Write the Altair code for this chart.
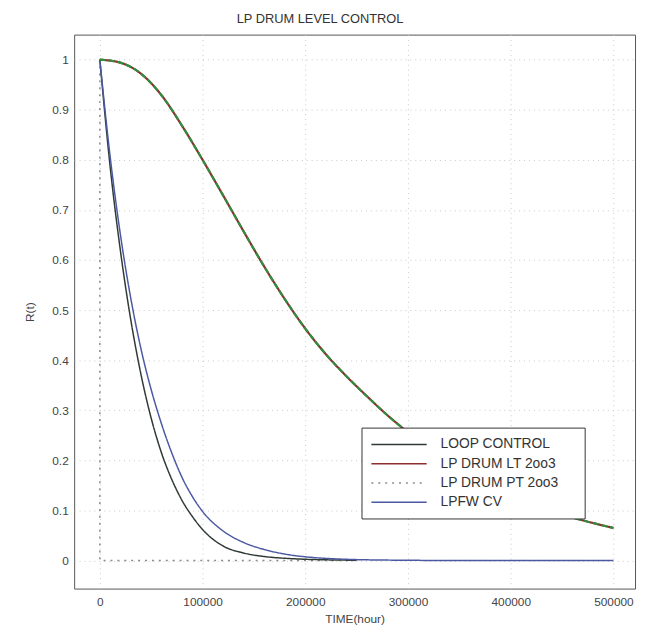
import altair as alt
import pandas as pd

series_names = ["LOOP CONTROL", "LP DRUM LT 2oo3", "LP DRUM PT 2oo3", "LPFW CV"]
series_colors = ["#2f3a33", "#8e2f2f", "#8a8a8a", "#4b59a3"]
series_dashes = [[1, 0], [1, 0], [2, 5], [1, 0]]

x_ticks = [0, 100000, 200000, 300000, 400000, 500000]
y_ticks = [0, 0.1, 0.2, 0.3, 0.4, 0.5, 0.6, 0.7, 0.8, 0.9, 1.0]

loop_t = [0, 10000, 20000, 30000, 40000, 50000, 60000, 70000, 80000, 90000, 100000,
          120000, 140000, 160000, 180000, 200000, 225000, 250000]
loop_r = [1.0, 0.787, 0.619, 0.482, 0.372, 0.284, 0.215, 0.162, 0.120, 0.088, 0.062,
          0.029, 0.015, 0.008, 0.0045, 0.0025, 0.0012, 0.0006]

lt_t = [0, 20000, 40000, 60000, 80000, 100000, 120000, 140000, 160000, 180000,
        200000, 220000, 240000, 260000, 280000, 300000, 320000, 340000, 360000,
        380000, 400000, 420000, 440000, 460000, 480000, 500000]
lt_r = [1.0, 0.994, 0.972, 0.929, 0.868, 0.800, 0.729, 0.657, 0.587, 0.522,
        0.463, 0.412, 0.368, 0.328, 0.290, 0.256, 0.225, 0.197, 0.172,
        0.150, 0.131, 0.114, 0.099, 0.086, 0.075, 0.065]

pt_t = [0, 0, 50000, 100000, 150000, 200000, 250000]
pt_r = [1.0, 0.0, 0.0, 0.0, 0.0, 0.0, 0.0]

cv_t = [0, 10000, 20000, 30000, 40000, 50000, 60000, 70000, 80000, 90000, 100000,
        120000, 140000, 160000, 180000, 200000, 220000, 250000, 300000, 350000,
        400000, 500000]
cv_r = [1.0, 0.807, 0.651, 0.525, 0.423, 0.341, 0.273, 0.215, 0.166, 0.128, 0.098,
        0.059, 0.036, 0.022, 0.0129, 0.0074, 0.0043, 0.0018, 0.0005, 0.0,
        0.0, 0.0]

rows = []
for name, ts, rs in [("LOOP CONTROL", loop_t, loop_r), ("LP DRUM LT 2oo3", lt_t, lt_r),
                     ("LP DRUM PT 2oo3", pt_t, pt_r), ("LPFW CV", cv_t, cv_r)]:
    for i, (t, r) in enumerate(zip(ts, rs)):
        rows.append({"series": name, "t": t, "r": r, "idx": i})
df = pd.DataFrame(rows)

font = "Liberation Sans"

legend = alt.Legend(orient="none", legendX=291, legendY=398, title="\u00a0",
                    titleOrient="right", titlePadding=17, titleFontSize=2,
                    symbolType="M-1,0H7", symbolSize=196, symbolStrokeWidth=1.5,
                    labelFontSize=14, labelFont=font, labelColor="#333",
                    strokeColor="#333", fillColor="white", padding=9,
                    rowPadding=4.5, labelOffset=55, labelLimit=300, cornerRadius=0)

x_enc = alt.X("t:Q", scale=alt.Scale(domain=[-25000, 521000], nice=False, zero=False),
              axis=alt.Axis(values=x_ticks, format="d", title="TIME(hour)",
                            grid=True, gridDash=[1, 4], gridColor="#c8c8c8",
                            domain=False, ticks=False, labelPadding=8,
                            labelFontSize=12, labelColor="#444", labelFont=font,
                            titleFontSize=12, titleFontWeight="normal", titleFont=font,
                            titleColor="#444", titleY=30, titleBaseline="middle"))
y_enc = alt.Y("r:Q", scale=alt.Scale(domain=[-0.056, 1.05], nice=False, zero=False),
              axis=alt.Axis(values=y_ticks, format="~g", title="R(t)",
                            grid=True, gridDash=[1, 4], gridColor="#c8c8c8",
                            domain=False, ticks=False, labelPadding=6,
                            labelFontSize=12, labelColor="#444", labelFont=font,
                            titleFontSize=12, titleFontWeight="normal", titleFont=font,
                            titleColor="#444", titleX=-45, titleBaseline="middle"))
color_enc = alt.Color("series:N", scale=alt.Scale(domain=series_names, range=series_colors),
                      legend=legend)
dash_enc = alt.StrokeDash("series:N", scale=alt.Scale(domain=series_names, range=series_dashes),
                          legend=legend)

base = alt.Chart(df)

def layer(name, width, interp):
    return base.transform_filter(alt.datum.series == name).mark_line(
        strokeWidth=width, interpolate=interp
    ).encode(x=x_enc, y=y_enc, color=color_enc, strokeDash=dash_enc, order="idx:Q")

pt_layer = layer("LP DRUM PT 2oo3", 1.5, "linear")
loop_layer = layer("LOOP CONTROL", 1.5, "monotone")
cv_layer = layer("LPFW CV", 1.5, "monotone")
lt_layer = layer("LP DRUM LT 2oo3", 2.2, "monotone")
green_layer = base.transform_filter(alt.datum.series == "LP DRUM LT 2oo3").mark_line(
    color="#2f8f3f", strokeDash=[6, 3], strokeWidth=2.2, interpolate="monotone"
).encode(x=alt.X("t:Q"), y=alt.Y("r:Q"), order="idx:Q")

chart = alt.layer(pt_layer, loop_layer, cv_layer, lt_layer, green_layer).properties(
    width=568, height=561,
    title=alt.TitleParams("LP DRUM LEVEL CONTROL", fontSize=13, font=font,
                          fontWeight="normal", color="#333", anchor="middle",
                          offset=9, dx=-35),
    autosize=alt.AutoSizeParams(type="none"),
    padding={"left": 67, "top": 23, "right": 2, "bottom": 38},
).configure_view(stroke="#555", strokeWidth=1)

chart.save("out.html", embed_options={"renderer": "svg", "actions": False})
